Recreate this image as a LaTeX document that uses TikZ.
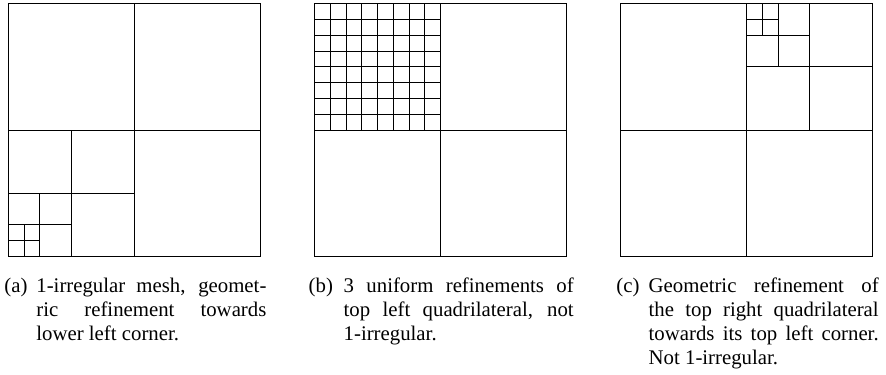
\documentclass[tikz,border=0pt]{standalone}
\usepackage{fontspec}
\setmainfont{Liberation Serif}
\tikzset{
  meshline/.style={line width=0.5pt, draw=black},
  caplabel/.style={inner sep=0pt, anchor=base west, font=\fontsize{10.4pt}{12pt}\selectfont},
  captext/.style={inner sep=0pt, anchor=base west, font=\fontsize{10.4pt}{12pt}\selectfont}
}
\newcommand{\capbox}[1]{\parbox[t]{115pt}{\tolerance=10000\hyphenpenalty=10000\fontsize{10.4pt}{12pt}\selectfont #1}}
\begin{document}
\begin{tikzpicture}[x=0.5pt, y=-0.5pt]
\useasboundingbox (0,0) rectangle (886,374);
% (a)
\begin{scope}[shift={(8.3,4)}]
  \draw[meshline] (0,0) rectangle (252,252);
  \draw[meshline] (126,0) -- (126,252) (0,126) -- (252,126);
  \draw[meshline] (63,126) -- (63,252) (0,189) -- (126,189);
  \draw[meshline] (31.5,189) -- (31.5,252) (0,220.5) -- (63,220.5);
  \draw[meshline] (15.75,220.5) -- (15.75,252) (0,236.25) -- (31.5,236.25);
\end{scope}
% (b)
\begin{scope}[shift={(314.5,4)}]
  \draw[meshline] (0,0) rectangle (252,252);
  \draw[meshline] (126,0) -- (126,252) (0,126) -- (252,126);
  \foreach \i in {1,...,7} {
    \draw[meshline] (\i*15.75,0) -- (\i*15.75,126) (0,\i*15.75) -- (126,\i*15.75);
  }
\end{scope}
% (c)
\begin{scope}[shift={(620.7,4)}]
  \draw[meshline] (0,0) rectangle (252,252);
  \draw[meshline] (126,0) -- (126,252) (0,126) -- (252,126);
  \draw[meshline] (189,0) -- (189,126) (126,63) -- (252,63);
  \draw[meshline] (157.5,0) -- (157.5,63) (126,31.5) -- (189,31.5);
  \draw[meshline] (141.75,0) -- (141.75,31.5) (126,15.75) -- (157.5,15.75);
\end{scope}
% captions
\node[caplabel] (la) at (4,292) {(a)};
\node[captext] (ta) at (36,292) {\capbox{1-irregular mesh, geomet-\linebreak ric refinement towards\linebreak lower left corner.}};
\node[caplabel] (lb) at (308.3,292) {(b)};
\node[captext] (tb) at (343.3,292) {\capbox{3 uniform refinements of\linebreak top left quadrilateral, not\linebreak 1-irregular.}};
\node[caplabel] (lc) at (616,292) {(c)};
\node[captext] (tc) at (648.3,292) {\capbox{Geometric refinement of\linebreak the top right quadrilateral\linebreak towards its top left corner.\linebreak Not 1-irregular.}};
\end{tikzpicture}
\end{document}
